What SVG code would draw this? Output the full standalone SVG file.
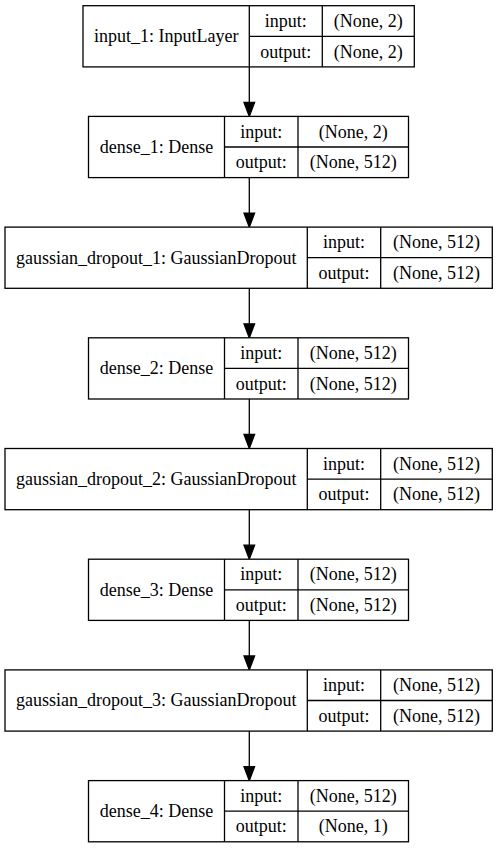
<svg xmlns="http://www.w3.org/2000/svg" width="497" height="848" viewBox="0 0 497 848">
<style>
.bg{fill:#fff;stroke:none}
.box{fill:#fff;stroke:#000;stroke-width:1.3}
.div{stroke:#000;stroke-width:1.3}
.t{font-family:"Liberation Serif","Times New Roman",serif;font-size:18px;fill:#000;text-anchor:middle}
.e{stroke:#000;stroke-width:1.3;fill:none}
.h{fill:#000;stroke:#000;stroke-width:1.3}
</style>
<rect class="bg" x="0" y="0" width="497" height="848"/>
<g id="connectors">
<line class="e" x1="249.3" y1="66.9" x2="249.3" y2="102.4"/><polygon class="h" points="244,102.4 254.6,102.4 249.3,116.4"/>
<line class="e" x1="249.3" y1="177.6" x2="249.3" y2="213.1"/><polygon class="h" points="244,213.1 254.6,213.1 249.3,227.1"/>
<line class="e" x1="249.3" y1="288.3" x2="249.3" y2="323.8"/><polygon class="h" points="244,323.8 254.6,323.8 249.3,337.8"/>
<line class="e" x1="249.3" y1="399" x2="249.3" y2="434.5"/><polygon class="h" points="244,434.5 254.6,434.5 249.3,448.5"/>
<line class="e" x1="249.3" y1="509.7" x2="249.3" y2="545.2"/><polygon class="h" points="244,545.2 254.6,545.2 249.3,559.2"/>
<line class="e" x1="249.3" y1="620.4" x2="249.3" y2="655.9"/><polygon class="h" points="244,655.9 254.6,655.9 249.3,669.9"/>
<line class="e" x1="249.3" y1="731.1" x2="249.3" y2="766.6"/><polygon class="h" points="244,766.6 254.6,766.6 249.3,780.6"/>
</g>
<g id="input_1" transform="translate(0,5.7)">
<rect class="box" x="83" y="0" width="331.3" height="61.2"/>
<line class="div" x1="249.3" y1="0" x2="249.3" y2="61.2"/>
<line class="div" x1="322.3" y1="0" x2="322.3" y2="61.2"/>
<line class="div" x1="249.3" y1="30.6" x2="414.3" y2="30.6"/>
<text class="t" x="166.2" y="36.6">input_1: InputLayer</text>
<text class="t" x="285.8" y="21.3">input:</text>
<text class="t" x="285.8" y="51.9">output:</text>
<text class="t" x="368.3" y="21.3">(None, 2)</text>
<text class="t" x="368.3" y="51.9">(None, 2)</text>
</g>
<g id="dense_1" transform="translate(0,116.4)">
<rect class="box" x="88.5" y="0" width="320" height="61.2"/>
<line class="div" x1="224.5" y1="0" x2="224.5" y2="61.2"/>
<line class="div" x1="298" y1="0" x2="298" y2="61.2"/>
<line class="div" x1="224.5" y1="30.6" x2="408.5" y2="30.6"/>
<text class="t" x="156.5" y="36.6">dense_1: Dense</text>
<text class="t" x="261.2" y="21.3">input:</text>
<text class="t" x="261.2" y="51.9">output:</text>
<text class="t" x="353.2" y="21.3">(None, 2)</text>
<text class="t" x="353.2" y="51.9">(None, 512)</text>
</g>
<g id="gaussian_dropout_1" transform="translate(0,227.1)">
<rect class="box" x="5" y="0" width="487.3" height="61.2"/>
<line class="div" x1="307.3" y1="0" x2="307.3" y2="61.2"/>
<line class="div" x1="380.7" y1="0" x2="380.7" y2="61.2"/>
<line class="div" x1="307.3" y1="30.6" x2="492.3" y2="30.6"/>
<text class="t" x="156.2" y="36.6">gaussian_dropout_1: GaussianDropout</text>
<text class="t" x="344" y="21.3">input:</text>
<text class="t" x="344" y="51.9">output:</text>
<text class="t" x="436.5" y="21.3">(None, 512)</text>
<text class="t" x="436.5" y="51.9">(None, 512)</text>
</g>
<g id="dense_2" transform="translate(0,337.8)">
<rect class="box" x="88.5" y="0" width="320" height="61.2"/>
<line class="div" x1="224.5" y1="0" x2="224.5" y2="61.2"/>
<line class="div" x1="298" y1="0" x2="298" y2="61.2"/>
<line class="div" x1="224.5" y1="30.6" x2="408.5" y2="30.6"/>
<text class="t" x="156.5" y="36.6">dense_2: Dense</text>
<text class="t" x="261.2" y="21.3">input:</text>
<text class="t" x="261.2" y="51.9">output:</text>
<text class="t" x="353.2" y="21.3">(None, 512)</text>
<text class="t" x="353.2" y="51.9">(None, 512)</text>
</g>
<g id="gaussian_dropout_2" transform="translate(0,448.5)">
<rect class="box" x="5" y="0" width="487.3" height="61.2"/>
<line class="div" x1="307.3" y1="0" x2="307.3" y2="61.2"/>
<line class="div" x1="380.7" y1="0" x2="380.7" y2="61.2"/>
<line class="div" x1="307.3" y1="30.6" x2="492.3" y2="30.6"/>
<text class="t" x="156.2" y="36.6">gaussian_dropout_2: GaussianDropout</text>
<text class="t" x="344" y="21.3">input:</text>
<text class="t" x="344" y="51.9">output:</text>
<text class="t" x="436.5" y="21.3">(None, 512)</text>
<text class="t" x="436.5" y="51.9">(None, 512)</text>
</g>
<g id="dense_3" transform="translate(0,559.2)">
<rect class="box" x="88.5" y="0" width="320" height="61.2"/>
<line class="div" x1="224.5" y1="0" x2="224.5" y2="61.2"/>
<line class="div" x1="298" y1="0" x2="298" y2="61.2"/>
<line class="div" x1="224.5" y1="30.6" x2="408.5" y2="30.6"/>
<text class="t" x="156.5" y="36.6">dense_3: Dense</text>
<text class="t" x="261.2" y="21.3">input:</text>
<text class="t" x="261.2" y="51.9">output:</text>
<text class="t" x="353.2" y="21.3">(None, 512)</text>
<text class="t" x="353.2" y="51.9">(None, 512)</text>
</g>
<g id="gaussian_dropout_3" transform="translate(0,669.9)">
<rect class="box" x="5" y="0" width="487.3" height="61.2"/>
<line class="div" x1="307.3" y1="0" x2="307.3" y2="61.2"/>
<line class="div" x1="380.7" y1="0" x2="380.7" y2="61.2"/>
<line class="div" x1="307.3" y1="30.6" x2="492.3" y2="30.6"/>
<text class="t" x="156.2" y="36.6">gaussian_dropout_3: GaussianDropout</text>
<text class="t" x="344" y="21.3">input:</text>
<text class="t" x="344" y="51.9">output:</text>
<text class="t" x="436.5" y="21.3">(None, 512)</text>
<text class="t" x="436.5" y="51.9">(None, 512)</text>
</g>
<g id="dense_4" transform="translate(0,780.6)">
<rect class="box" x="88.5" y="0" width="320" height="61.2"/>
<line class="div" x1="224.5" y1="0" x2="224.5" y2="61.2"/>
<line class="div" x1="298" y1="0" x2="298" y2="61.2"/>
<line class="div" x1="224.5" y1="30.6" x2="408.5" y2="30.6"/>
<text class="t" x="156.5" y="36.6">dense_4: Dense</text>
<text class="t" x="261.2" y="21.3">input:</text>
<text class="t" x="261.2" y="51.9">output:</text>
<text class="t" x="353.2" y="21.3">(None, 512)</text>
<text class="t" x="353.2" y="51.9">(None, 1)</text>
</g>
</svg>
